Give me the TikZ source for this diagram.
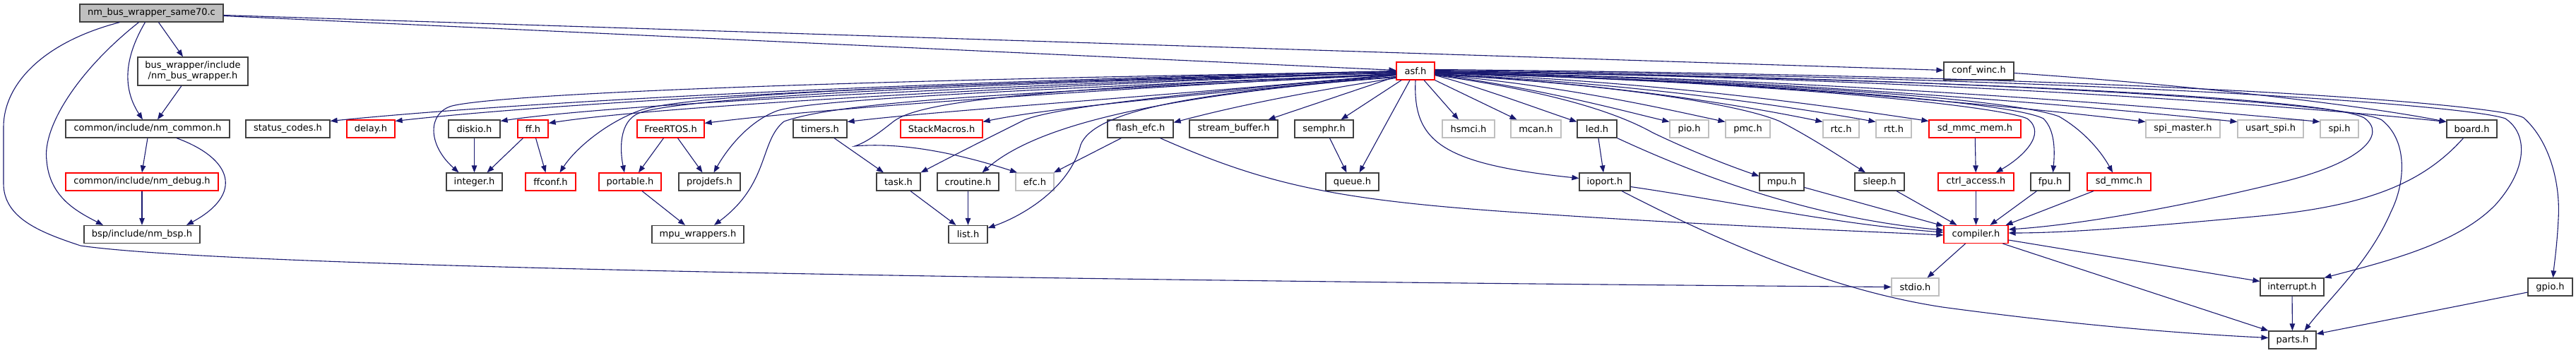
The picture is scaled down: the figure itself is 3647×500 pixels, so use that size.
\documentclass[tikz,border=0pt]{standalone}
\usepackage{fontspec}
\setmainfont{DejaVu Sans}
\usetikzlibrary{arrows.meta}
\definecolor{edgeblue}{RGB}{25,25,112}
\definecolor{nodeblack}{RGB}{64,64,64}
\definecolor{nodegray}{RGB}{191,191,191}
\definecolor{nodered}{RGB}{255,0,0}
\tikzset{
  box/.style={draw, line width=1.2pt, fill=white, inner sep=0pt, minimum height=25pt,
    font=\fontsize{13pt}{15pt}\selectfont, text=black},
  nb/.style={box, draw=nodeblack},
  nr/.style={box, draw=nodered},
  ng/.style={box, draw=nodegray},
  e/.style={draw=edgeblue, line width=1.1pt, -{Triangle[length=10pt,width=7.5pt,fill=edgeblue]}},
}
\begin{document}
\begin{tikzpicture}[x=1pt,y=-1pt]
\fill[white] (0,0) rectangle (3647,500);
\useasboundingbox (0,0) rectangle (3647,500);
% row 1
\node[nb, fill=nodegray, minimum width=203pt] (main) at (214.5,18.5) {nm\_bus\_wrapper\_same70.c};
\node[nb, minimum width=156pt, minimum height=40pt, align=center] (bus) at (273,101) {bus\_wrapper/include\\/nm\_bus\_wrapper.h};
\node[nr, minimum width=54pt] (asf) at (2004,100.5) {asf.h};
\node[nb, minimum width=99pt] (confwinc) at (2801.5,100.5) {conf\_winc.h};
% row 2
\node[nb, minimum width=232pt] (common) at (209,182.5) {common/include/nm\_common.h};
\node[nb, minimum width=119pt] (status) at (407.5,182.5) {status\_codes.h};
\node[nr, minimum width=68pt] (delay) at (525,182.5) {delay.h};
\node[nb, minimum width=73pt] (diskio) at (671.5,182.5) {diskio.h};
\node[nr, minimum width=43pt] (ff) at (754.5,182.5) {ff.h};
\node[nr, minimum width=95pt] (freertos) at (949.5,182.5) {FreeRTOS.h};
\node[nb, minimum width=76pt] (timers) at (1161,182.5) {timers.h};
\node[nr, minimum width=116pt] (stackmacros) at (1333,182.5) {StackMacros.h};
\node[nb, minimum width=93pt] (flashefc) at (1614.5,182.5) {flash\_efc.h};
\node[nb, minimum width=125pt] (streambuf) at (1746.5,182.5) {stream\_buffer.h};
\node[nb, minimum width=83pt] (semphr) at (1874.5,182.5) {semphr.h};
\node[ng, minimum width=74pt] (hsmci) at (2079,182.5) {hsmci.h};
\node[ng, minimum width=71pt] (mcan) at (2174.5,182.5) {mcan.h};
\node[nb, minimum width=56pt] (led) at (2261,182.5) {led.h};
\node[ng, minimum width=55pt] (pio) at (2391.5,182.5) {pio.h};
\node[ng, minimum width=63pt] (pmc) at (2474.5,182.5) {pmc.h};
\node[ng, minimum width=51pt] (rtc) at (2606.5,182.5) {rtc.h};
\node[ng, minimum width=50pt] (rtt) at (2681,182.5) {rtt.h};
\node[nr, minimum width=130pt] (sdmmcmem) at (2796,182.5) {sd\_mmc\_mem.h};
\node[ng, minimum width=105pt] (spimaster) at (3090.5,182.5) {spi\_master.h};
\node[ng, minimum width=93pt] (usartspi) at (3214.5,182.5) {usart\_spi.h};
\node[ng, minimum width=54pt] (spi) at (3312,182.5) {spi.h};
\node[nb, minimum width=71pt] (board) at (3499.5,182.5) {board.h};
% row 3
\node[nr, minimum width=216pt] (debug) at (201,257.5) {common/include/nm\_debug.h};
\node[nb, minimum width=79pt] (integer) at (671.5,257.5) {integer.h};
\node[nr, minimum width=71pt] (ffconf) at (779.5,257.5) {ffconf.h};
\node[nr, minimum width=88pt] (portable) at (892,257.5) {portable.h};
\node[nb, minimum width=87pt] (projdefs) at (1004.5,257.5) {projdefs.h};
\node[nb, minimum width=62pt] (task) at (1272,257.5) {task.h};
\node[nb, minimum width=87pt] (croutine) at (1370.5,257.5) {croutine.h};
\node[ng, minimum width=54pt] (efc) at (1465,257.5) {efc.h};
\node[nb, minimum width=75pt] (queue) at (1914.5,257.5) {queue.h};
\node[nb, minimum width=72pt] (ioport) at (2272,257.5) {ioport.h};
\node[nb, minimum width=63pt] (mpu) at (2522.5,257.5) {mpu.h};
\node[nb, minimum width=70pt] (sleep) at (2661,257.5) {sleep.h};
\node[nr, minimum width=107pt] (ctrlaccess) at (2797.5,257.5) {ctrl\_access.h};
\node[nb, minimum width=55pt] (fpu) at (2902.5,257.5) {fpu.h};
\node[nr, minimum width=90pt] (sdmmc) at (3000,257.5) {sd\_mmc.h};
% row 4
\node[nb, minimum width=164pt] (bsp) at (201,332) {bsp/include/nm\_bsp.h};
\node[nb, minimum width=130pt] (mpuwrap) at (988,332) {mpu\_wrappers.h};
\node[nb, minimum width=55pt] (list) at (1370.5,332) {list.h};
\node[nr, minimum width=91pt] (compiler) at (2797.5,332) {compiler.h};
% row 5
\node[ng, minimum width=67pt] (stdio) at (2711.5,406.5) {stdio.h};
\node[nb, minimum width=90pt] (interrupt) at (3245,406.5) {interrupt.h};
\node[nb, minimum width=63pt] (gpio) at (3610.5,406.5) {gpio.h};
% row 6
\node[nb, minimum width=67pt] (parts) at (3245.5,481.5) {parts.h};

% ---- edges from main file
\draw[e] ([xshift=10pt]main.south) -- ([xshift=-14pt]bus.north);
\draw[e] ([xshift=-9pt]main.south) .. controls (180,75) and (170,120) .. ([xshift=-7pt]common.north);
\draw[e] ([xshift=-18pt]main.south) .. controls (110,100) and (60,180) .. (66,227) .. controls (70,280) and (110,300) .. ([xshift=-55pt]bsp.north);
\draw[e] ([xshift=-45pt]main.south) .. controls (60,60) and (5,120) .. (5,180) -- (5,260) .. controls (5,310) and (60,330) .. (114,348) .. controls (300,375) and (1200,395) .. (stdio.west);
\draw[e] ([yshift=-4pt]main.east) -- ([yshift=1pt]asf.west);
\draw[e] ([yshift=-3pt]main.east) -- ([yshift=1pt]confwinc.west);
\draw[e] ([xshift=-16pt]bus.south) -- ([xshift=14pt]common.north);
\draw[e] (common.south) -- (debug.north);
\draw[e] ([xshift=41pt]common.south) .. controls (330,225) and (345,275) .. ([xshift=63pt]bsp.north);
\draw[e] (debug) -- (bsp);

% ---- asf.h fan to the left
\draw[e] (asf.west) .. controls (1200,118) and (700,148) .. ([yshift=11pt]status.east);
\draw[e] ([yshift=-1pt]asf.west) .. controls (1200,120) and (750,150) .. ([yshift=11pt]delay.east);
\draw[e] ([yshift=-1pt]asf.west) .. controls (1100,115) and (700,135) .. (640,150) .. controls (605,160) and (605,205) .. ([xshift=-22pt]integer.north);
\draw[e] ([yshift=-2pt]asf.west) .. controls (1300,125) and (850,150) .. ([yshift=11pt]diskio.east);
\draw[e] ([yshift=-2pt]asf.west) .. controls (1300,128) and (900,155) .. ([yshift=8pt]ff.east);
\draw[e] ([yshift=-3pt]asf.west) .. controls (1300,118) and (980,135) .. (910,155) .. controls (860,172) and (815,210) .. ([xshift=13pt]ffconf.north);
\draw[e] ([yshift=-3pt]asf.west) .. controls (1300,120) and (960,140) .. (905,160) .. controls (875,172) and (878,215) .. ([xshift=-8pt]portable.north);
\draw[e] ([yshift=-4pt]asf.west) .. controls (1500,130) and (1150,155) .. ([yshift=8pt]freertos.east);
\draw[e] ([yshift=-4pt]asf.west) .. controls (1500,125) and (1150,140) .. (1100,157) .. controls (1060,172) and (1030,210) .. ([xshift=6pt]projdefs.north);
\draw[e] ([yshift=-5pt]asf.west) .. controls (1500,130) and (1200,140) .. (1110,172) .. controls (1075,200) and (1090,260) .. ([xshift=23pt]mpuwrap.north);
\draw[e] ([yshift=-5pt]asf.west) .. controls (1600,140) and (1350,155) .. ([yshift=10pt]timers.east);
\draw[e] ([yshift=-6pt]asf.west) .. controls (1700,135) and (1500,150) .. ([yshift=10pt]stackmacros.east);
\draw[e] ([yshift=-6pt]asf.west) .. controls (1700,130) and (1500,150) .. (1450,170) .. controls (1400,195) and (1350,220) .. (task.north east);
\draw[e] ([yshift=-8pt]asf.west) .. controls (1650,135) and (1470,175) .. ([xshift=20pt]croutine.north);
\draw[e] ([yshift=-5pt]asf.west) .. controls (1450,125) and (1300,145) .. (1265,172) .. controls (1240,192) and (1225,202) .. (1210,207) .. controls (1290,200) and (1380,225) .. ([xshift=-25pt]efc.north);
\draw[e] ([yshift=-9pt]asf.west) .. controls (1700,130) and (1550,155) .. (1530,205) .. controls (1515,265) and (1450,305) .. ([yshift=9pt]list.east);
\draw[e] ([yshift=-10pt]asf.west) .. controls (1850,130) and (1750,150) .. ([yshift=9pt]flashefc.east);
\draw[e] ([yshift=-8pt]asf.west) -- ([xshift=49pt]streambuf.north);
\draw[e] ([xshift=-20pt]asf.south) -- ([xshift=24pt]semphr.north);
\draw[e] ([xshift=-8pt]asf.south) -- ([xshift=10pt]queue.north);
\draw[e] (asf.south) .. controls (2000,200) and (2040,232) .. ([yshift=5pt]ioport.west);
\draw[e] ([xshift=12pt]asf.south) -- ([xshift=-14pt]hsmci.north);
\draw[e] (asf.south east) -- ([xshift=-27pt]mcan.north);

% ---- asf.h fan to the right
\draw[e] ([yshift=-6pt]asf.east) .. controls (2100,125) and (2180,155) .. ([yshift=10pt]led.west);
\draw[e] ([yshift=-5pt]asf.east) .. controls (2180,125) and (2290,155) .. ([yshift=10pt]pio.west);
\draw[e] ([yshift=-5pt]asf.east) .. controls (2220,122) and (2360,155) .. ([yshift=10pt]pmc.west);
\draw[e] ([yshift=-6pt]asf.east) .. controls (2200,130) and (2290,160) .. (2340,188) .. controls (2390,212) and (2440,232) .. ([yshift=8pt]mpu.west);
\draw[e] ([yshift=-4pt]asf.east) .. controls (2300,120) and (2480,152) .. ([yshift=10pt]rtc.west);
\draw[e] ([yshift=-4pt]asf.east) .. controls (2320,118) and (2540,152) .. ([yshift=10pt]rtt.west);
\draw[e] ([yshift=-5pt]asf.east) .. controls (2300,120) and (2470,150) .. (2520,172) .. controls (2565,195) and (2610,225) .. ([xshift=-20pt]sleep.north);
\draw[e] ([yshift=-3pt]asf.east) .. controls (2350,115) and (2600,152) .. ([yshift=11pt]sdmmcmem.west);
\draw[e] ([yshift=-3pt]asf.east) .. controls (2500,115) and (2830,150) .. (2870,168) .. controls (2900,190) and (2860,225) .. ([xshift=28pt]ctrlaccess.north);
\draw[e] ([yshift=-3pt]asf.east) .. controls (2500,115) and (2850,145) .. (2893,168) .. controls (2910,185) and (2909,215) .. ([xshift=4pt]fpu.north);
\draw[e] ([yshift=-3pt]asf.east) .. controls (2500,115) and (2850,140) .. (2915,165) .. controls (2950,185) and (2975,215) .. ([xshift=-9pt]sdmmc.north);
\draw[e] ([yshift=-2pt]asf.east) .. controls (2450,112) and (2850,150) .. ([yshift=10pt]spimaster.west);
\draw[e] ([yshift=-2pt]asf.east) .. controls (2500,110) and (2950,150) .. ([yshift=10pt]usartspi.west);
\draw[e] ([yshift=-2pt]asf.east) .. controls (2550,110) and (3050,150) .. ([yshift=10pt]spi.west);
\draw[e] ([yshift=-1pt]asf.east) .. controls (2650,108) and (3200,145) .. ([yshift=10pt]board.west);
\draw[e] ([yshift=-1pt]asf.east) .. controls (2800,112) and (3300,140) .. (3347,167) .. controls (3380,190) and (3345,230) .. (3230,258) .. controls (3100,290) and (2950,318) .. ([yshift=7pt]compiler.east);
\draw[e] (asf.east) .. controls (2900,112) and (3340,150) .. (3372,170) .. controls (3410,200) and (3405,260) .. (3385,300) .. controls (3355,370) and (3300,420) .. ([xshift=17pt]parts.north);
\draw[e] ([yshift=1pt]asf.east) .. controls (3000,110) and (3500,150) .. (3547,168) .. controls (3580,190) and (3578,240) .. (3533,290) .. controls (3480,345) and (3380,370) .. (interrupt.north east);
\draw[e] ([yshift=2pt]asf.east) .. controls (3100,108) and (3550,150) .. (3573,167) .. controls (3610,200) and (3625,260) .. (3622,310) .. controls (3620,350) and (3616,375) .. ([xshift=4pt]gpio.north);

% ---- other edges
\draw[e] (diskio) -- (integer);
\draw[e] ([xshift=-14pt]ff.south) -- ([xshift=18pt]integer.north);
\draw[e] ([xshift=4pt]ff.south) -- ([xshift=-7pt]ffconf.north);
\draw[e] ([xshift=-10pt]freertos.south) -- ([xshift=12pt]portable.north);
\draw[e] ([xshift=10pt]freertos.south) -- ([xshift=-10pt]projdefs.north);
\draw[e] ([xshift=17pt]portable.south) -- ([xshift=-18pt]mpuwrap.north);
\draw[e] ([xshift=20pt]timers.south) -- ([xshift=-21pt]task.north);
\draw[e] ([xshift=17pt]task.south) -- ([xshift=-17pt]list.north);
\draw[e] (croutine) -- (list);
\draw[e] ([xshift=-27pt]flashefc.south) -- ([xshift=27pt]efc.north);
\draw[e] ([xshift=28pt]flashefc.south) .. controls (1800,265) and (1900,285) .. (2180,303) .. controls (2400,318) and (2600,326) .. ([yshift=-1pt]compiler.west);
\draw[e] ([xshift=8pt]semphr.south) -- ([xshift=-8pt]queue.north);
\draw[e] (led) -- (ioport);
\draw[e] (led.south east) .. controls (2450,270) and (2600,312) .. ([yshift=6pt]compiler.west);
\draw[e] ([yshift=-7pt]ioport.east) .. controls (2450,285) and (2600,318) .. ([yshift=3pt]compiler.west);
\draw[e] ([xshift=24pt]ioport.south) .. controls (2450,350) and (2600,412) .. (2750,435) .. controls (2950,462) and (3100,473) .. ([yshift=3pt]parts.west);
\draw[e] ([yshift=-8pt]mpu.east) -- ([yshift=12pt]compiler.west);
\draw[e] ([xshift=24pt]sleep.south) -- ([xshift=-27pt]compiler.north);
\draw[e] (sdmmcmem) -- (ctrlaccess);
\draw[e] (ctrlaccess) -- (compiler);
\draw[e] ([xshift=-19pt]fpu.south) -- ([xshift=20pt]compiler.north);
\draw[e] ([xshift=-36pt]sdmmc.south) -- ([xshift=42pt]compiler.north);
\draw[e] ([xshift=-12pt]board.south) .. controls (3430,260) and (3350,292) .. (3200,306) .. controls (3050,320) and (2930,330) .. ([yshift=2pt]compiler.east);
\draw[e] ([yshift=-3pt]confwinc.east) .. controls (3100,120) and (3350,150) .. ([yshift=10pt]board.west);
\draw[e] ([xshift=-15pt]compiler.south) -- ([xshift=17pt]stdio.north);
\draw[e] ([xshift=38pt]compiler.south) -- (parts.north west);
\draw[e] ([yshift=-8pt]compiler.east) -- ([yshift=8pt]interrupt.west);
\draw[e] (interrupt) -- (parts);
\draw[e] ([yshift=-7.5pt]gpio.west) -- ([yshift=8.5pt]parts.east);
\end{tikzpicture}
\end{document}
